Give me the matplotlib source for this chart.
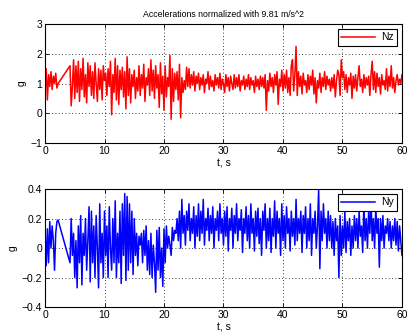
import numpy as np
import matplotlib
matplotlib.use("Agg")
import matplotlib.pyplot as plt

plt.rcParams['font.family'] = ['Liberation Sans', 'DejaVu Sans']

# sample times: 0..2.2 s, data gap, then 4.2..60 s (0.2 s step)
dt = 0.2
t_a = np.round(np.arange(0, 2.2 + 1e-9, dt), 2)
t_b = np.round(np.arange(4.2, 60.0 + 1e-9, dt), 2)

nz_a = [0.75, 1.5, 0.45, 1.3, 0.9, 1.4, 0.8, 1.25, 1.0, 1.35, 0.85, 1.0]
nz_b = [
    1.6, 0.25, 0.9, 1.8, 0.5, 1.6, 0.7, 1.75, 0.4, 1.5,
    0.8, 1.85, 0.55, 1.3, 0.35, 1.7, 0.9, 1.6, 0.6, 1.4,
    0.5, 1.7, 1.0, 0.4, 1.5, 0.8, 1.45, 0.45, 1.6, 1.1,
    1.35, 0.6, 1.5, 0.9, 1.75, -0.05, 1.3, 0.7, 1.85, 0.45,
    1.6, 0.3, 1.45, 0.8, 1.55, 0.55, 1.4, 0.15, 1.9, 0.6,
    1.5, 0.35, 1.3, 0.9, 1.45, 0.5, 1.2, 0.75, 1.6, 0.6,
    1.3, 0.85, 1.65, 0.4, 1.2, 0.95, 1.5, 0.6, 1.8, 0.75,
    1.45, 0.5, 1.6, 0.85, 1.3, 0.2, 1.7, 0.65, 1.25, 0.1,
    1.6, 0.55, 1.2, 0.9, 1.95, -0.2, 1.5, 0.4, 1.35, 0.8,
    1.4, 0.45, 1.65, -0.15, 1.2, 0.7, 1.1, 0.8, 1.55, 0.9,
    1.5, 0.85, 1.3, 0.95, 1.4, 0.75, 1.25, 1.0, 1.35, 0.8,
    1.2, 0.95, 1.3, 0.7, 1.15, 1.0, 1.4, 0.8, 1.25, 0.9,
    1.1, 0.75, 1.3, 0.95, 1.2, 0.85, 1.35, 0.8, 1.15, 1.0,
    0.7, 1.3, 0.9, 1.2, 0.75, 1.25, 1.0, 0.8, 1.3, 0.85,
    1.2, 0.9, 1.3, 0.75, 1.1, 0.95, 1.25, 0.8, 1.15, 0.9,
    1.3, 0.8, 1.2, 0.95, 1.1, 0.7, 1.25, 0.9, 1.15, 0.8,
    1.25, 0.9, 1.2, 0.85, 1.3, 0.1, 1.1, 0.75, 1.35, 0.9,
    1.2, 0.7, 1.3, 0.95, 1.4, 0.3, 1.15, 0.9, 1.45, 0.75,
    1.3, 0.85, 1.45, 0.7, 1.2, 0.6, 1.6, 1.8, 0.75, 1.3,
    2.25, 0.6, 1.4, 0.9, 1.25, 0.65, 1.35, 0.95, 1.1, 0.7,
    1.3, 0.8, 1.25, 0.95, 1.45, 0.65, 1.2, 0.35, 1.1, 0.85,
    1.35, 0.7, 1.2, 0.9, 1.4, 0.8, 1.25, 0.95, 1.15, 0.75,
    1.2, 0.85, 1.3, 0.55, 1.1, 1.45, 1.3, 0.6, 1.8, 1.2,
    1.4, 0.8, 1.3, 0.7, 1.2, 0.95, 1.35, 0.5, 1.25, 0.85,
    1.3, 0.75, 1.2, 1.6, 0.9, 1.15, 0.7, 1.3, 0.85, 1.2,
    0.95, 1.25, 0.6, 1.3, 1.75, 0.8, 1.4, 0.7, 1.35, 0.9,
    1.2, 0.65, 1.3, 0.95, 1.1, 0.8, 1.5, 0.75, 1.25, 0.9,
    1.6, 0.85, 1.2, 0.7, 1.1, 1.3, 0.95, 1.15, 1.0, 1.3,
]

ny_a = [0.12, -0.12, 0.13, -0.1, 0.18, 0.0, 0.15, 0.05, -0.15, 0.1, 0.18, 0.19]
ny_b = [
    -0.1, 0.2, -0.05, 0.1, -0.2, 0.05, -0.27, 0.15, -0.1, 0.22,
    -0.25, 0.1, -0.05, 0.2, -0.15, 0.05, 0.28, -0.23, 0.25, -0.1,
    0.15, -0.2, 0.22, 0.0, -0.27, 0.3, -0.1, 0.1, -0.2, 0.25,
    -0.05, 0.15, -0.2, 0.28, 0.0, -0.15, 0.2, -0.1, 0.32, -0.2,
    0.1, -0.1, 0.25, -0.24, 0.3, -0.05, 0.37, -0.22, 0.35, -0.15,
    0.3, -0.1, 0.25, -0.18, 0.2, -0.05, 0.1, -0.12, 0.08, 0.02,
    0.1, -0.1, 0.12, -0.05, 0.15, -0.15, 0.05, -0.18, 0.1, -0.2,
    0.02, -0.1, -0.3, 0.12, -0.15, 0.14, -0.2, 0.0, -0.26, 0.13,
    -0.1, 0.15, 0.0, 0.08, 0.02, -0.05, 0.14, 0.05, 0.12, 0.1,
    0.2, 0.05, 0.25, 0.0, 0.33, 0.1, 0.22, 0.02, 0.25, 0.12,
    0.3, 0.05, 0.2, 0.1, 0.28, 0.0, 0.22, 0.08, 0.3, 0.05,
    0.25, 0.1, 0.33, 0.02, 0.2, 0.12, 0.27, 0.05, 0.22, 0.1,
    0.28, 0.0, 0.2, 0.12, 0.25, 0.05, 0.3, 0.1, 0.2, 0.02,
    0.25, 0.08, 0.28, -0.02, 0.2, 0.12, 0.27, 0.0, 0.22, 0.1,
    0.3, 0.05, 0.2, 0.12, 0.26, -0.03, 0.2, 0.1, 0.28, 0.05,
    0.22, 0.0, 0.3, 0.1, 0.2, -0.02, 0.25, 0.08, 0.27, 0.03,
    0.2, -0.05, 0.25, 0.12, 0.3, 0.0, 0.2, 0.05, 0.27, -0.03,
    0.2, 0.08, 0.32, 0.0, 0.25, 0.1, 0.2, -0.05, 0.3, 0.05,
    0.22, 0.0, 0.28, 0.1, 0.2, -0.02, 0.25, 0.08, 0.2, 0.02,
    0.33, 0.05, 0.2, 0.1, 0.25, -0.03, 0.22, 0.1, 0.28, 0.0,
    0.2, 0.05, 0.3, -0.05, 0.2, 0.1, 0.25, 0.0, 0.15, 0.4,
    -0.14, 0.25, 0.05, 0.3, 0.1, 0.2, 0.0, 0.25, 0.05, 0.22,
    0.0, 0.18, -0.05, 0.2, 0.05, 0.15, -0.2, 0.22, -0.05, 0.15,
    0.0, 0.25, -0.03, 0.18, 0.05, 0.2, -0.05, 0.15, 0.0, 0.22,
    0.05, 0.2, 0.0, 0.25, 0.08, 0.15, -0.03, 0.3, 0.05, 0.2,
    0.0, 0.25, 0.1, 0.33, 0.05, 0.2, 0.0, 0.28, 0.1, 0.2,
    -0.13, 0.2, 0.05, 0.22, 0.0, 0.15, 0.1, 0.2, 0.05, 0.18,
    0.0, 0.15, 0.05, 0.2, 0.02, 0.18, -0.02, 0.15, 0.05, -0.05,
]

t = np.concatenate([t_a, t_b])
nz = np.array(nz_a + nz_b)
ny = np.array(ny_a + ny_b)

title = "Accelerations normalized with 9.81 m/s^2"
xticks = [0, 10, 20, 30, 40, 50, 60]
nz_yticks = [-1, 0, 1, 2, 3]
ny_yticks = [-0.4, -0.2, 0, 0.2, 0.4]

fig = plt.figure(figsize=(4.07, 3.35), dpi=100)
ax1 = fig.add_axes([0.1106, 0.573, 0.877, 0.355])
ax2 = fig.add_axes([0.1106, 0.0836, 0.877, 0.352])

def style(ax, yticks, ylim):
    ax.set_xlim(0, 60)
    ax.set_ylim(*ylim)
    ax.set_xticks(xticks)
    ax.set_yticks(yticks)
    ax.tick_params(direction='in', top=True, right=True, labelsize=7.5,
                   length=3, width=0.6, pad=2)
    ax.grid(True, linestyle=(0, (1, 3)), color='black', linewidth=0.6)
    for s in ax.spines.values():
        s.set_linewidth(0.8)
    ax.set_xlabel('t, s', fontsize=7.5, labelpad=2)
    ax.set_ylabel('g', fontsize=7.5, labelpad=3)

ax1.plot(t, nz, color='red', linewidth=1.1, label='Nz')
style(ax1, nz_yticks, (-1, 3))
ax1.set_yticklabels(['\u22121', '0', '1', '2', '3'])
ax1.set_title(title, fontsize=6.3, pad=5)

ax2.plot(t, ny, color='blue', linewidth=1.1, label='Ny')
style(ax2, ny_yticks, (-0.4, 0.4))
ax2.set_yticklabels(['\u22120.4', '\u22120.2', '0', '0.2', '0.4'])

for ax in (ax1, ax2):
    leg = ax.legend(loc='upper right', fontsize=7.5, fancybox=False,
                    framealpha=1, edgecolor='black', handlelength=3.2,
                    borderaxespad=0.5, borderpad=0.3, handletextpad=0.6)
    leg.get_frame().set_linewidth(0.8)

fig.savefig('out.png', dpi=100)
